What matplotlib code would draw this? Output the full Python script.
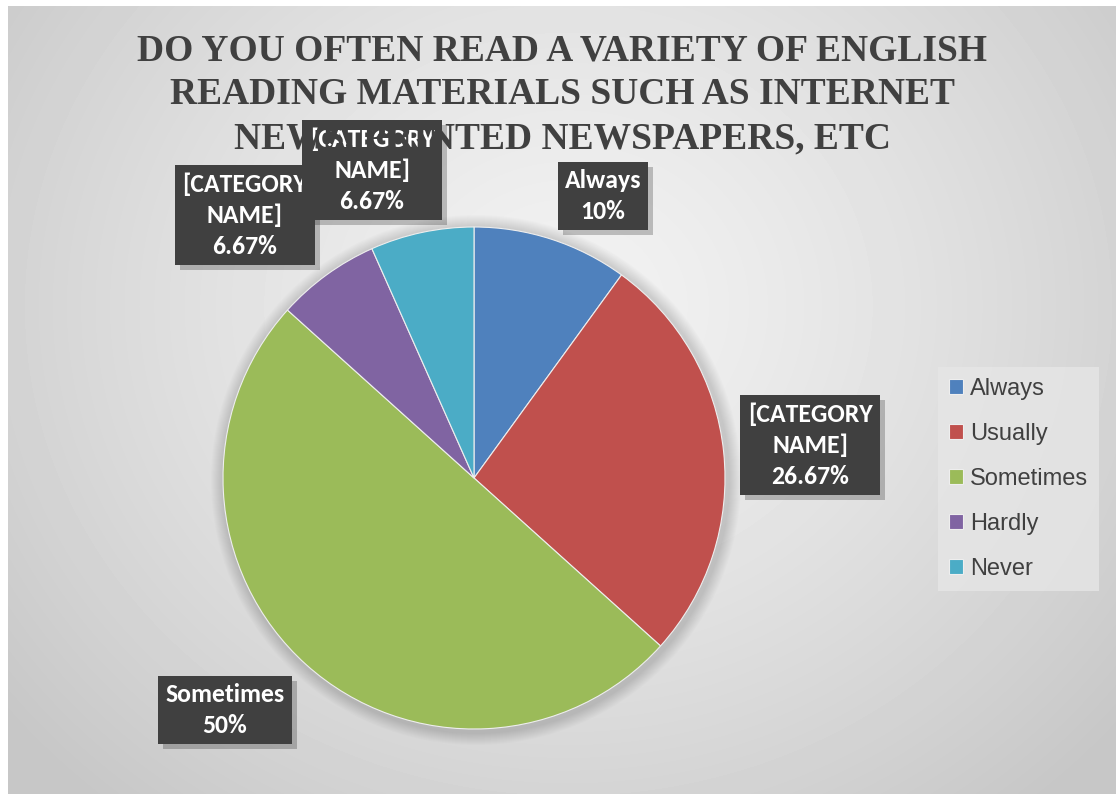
import numpy as np
import matplotlib.pyplot as plt
from matplotlib.patches import Circle

# survey answers (number of respondents)
categories = ["Always", "Usually", "Sometimes", "Hardly", "Never"]
counts = [3, 8, 15, 2, 2]
colors = ["#4F81BD", "#C0504D", "#9BBB59", "#8064A2", "#4BACC6"]

# label text shown in the call-out boxes (some kept as placeholders)
label_names = ["Always", "[CATEGORY\nNAME]", "Sometimes", "[CATEGORY\nNAME]", "[CATEGORY\nNAME]"]
# where each call-out box sits (figure pixels, from top-left)
label_pos = [(603, 196), (810, 445), (225, 710), (245, 215), (372, 170)]

title = ("DO YOU OFTEN READ A VARIETY OF ENGLISH\n"
         "READING MATERIALS SUCH AS INTERNET\n"
         "NEWS, PRINTED NEWSPAPERS, ETC")

W, H = 1116, 794
fig = plt.figure(figsize=(W / 100, H / 100), dpi=100)

# radial grey background
bg = fig.add_axes([8 / W, 0, (W - 8) / W, (H - 6) / H])
yy, xx = np.mgrid[0:H - 6, 0:W - 8]
d = np.hypot((xx - 560) / 1.0, (yy - 300) / 0.9)
shade = 0.95 - 0.17 * np.clip(d / 720, 0, 1) ** 1.3
bg.imshow(shade, cmap="gray", vmin=0, vmax=1, aspect="auto")
bg.axis("off")

ax = fig.add_axes([0, 0, 1, 1])
cx, cy, r = 474, H - 478, 251

# soft shadow under the pie
for k in range(12):
    ax.add_patch(Circle((cx + 2, cy - 2), r + 14 - k, color="black",
                        alpha=0.012, lw=0, zorder=1))

wedges, _ = ax.pie(counts, colors=colors, startangle=90, counterclock=False,
                   center=(cx, cy), radius=r, frame=True,
                   wedgeprops=dict(edgecolor="#eeeeee", linewidth=0.8))
for w in wedges:
    w.set_zorder(2)
ax.set_xlim(0, W)
ax.set_ylim(0, H)
ax.set_aspect("equal")
ax.axis("off")

fig.text(562 / W, 1 - 95 / H, title, ha="center", va="center", fontsize=27,
         fontweight="bold", family="Liberation Serif", color="#404040",
         linespacing=1.32, zorder=3)

label_font = dict(fontsize=18.5, fontweight="bold", family=["Carlito", "Open Sans"],
                  linespacing=1.4, ha="center", va="center")
total = sum(counts)
for name, n, (px, py) in zip(label_names, counts, label_pos):
    pct = f"{100 * n / total:.2f}".rstrip("0").rstrip(".")
    txt = f"{name}\n{pct}%"
    # drop shadow, then the dark box
    ax.text(px + 5, H - py - 5, txt, color="none",
            bbox=dict(boxstyle="square,pad=0.28", fc="black", ec="none", alpha=0.22),
            zorder=4, **label_font)
    ax.text(px, H - py, txt, color="white",
            bbox=dict(boxstyle="square,pad=0.28", fc="#404040", ec="none"),
            zorder=5, **label_font)

leg = ax.legend(wedges, categories, loc="center left",
                bbox_to_anchor=(938 / W, 1 - 479 / H), bbox_transform=fig.transFigure,
                frameon=True, fancybox=False, labelspacing=0.98, borderaxespad=0,
                prop=dict(family="Liberation Sans", size=17),
                handlelength=0.6, handleheight=0.6, handletextpad=0.3,
                borderpad=0.45, labelcolor="#404040")
leg.get_frame().set_facecolor("#e6e6e6")
leg.get_frame().set_edgecolor("none")
leg.get_frame().set_alpha(0.8)

fig.savefig("out.png", dpi=100)
